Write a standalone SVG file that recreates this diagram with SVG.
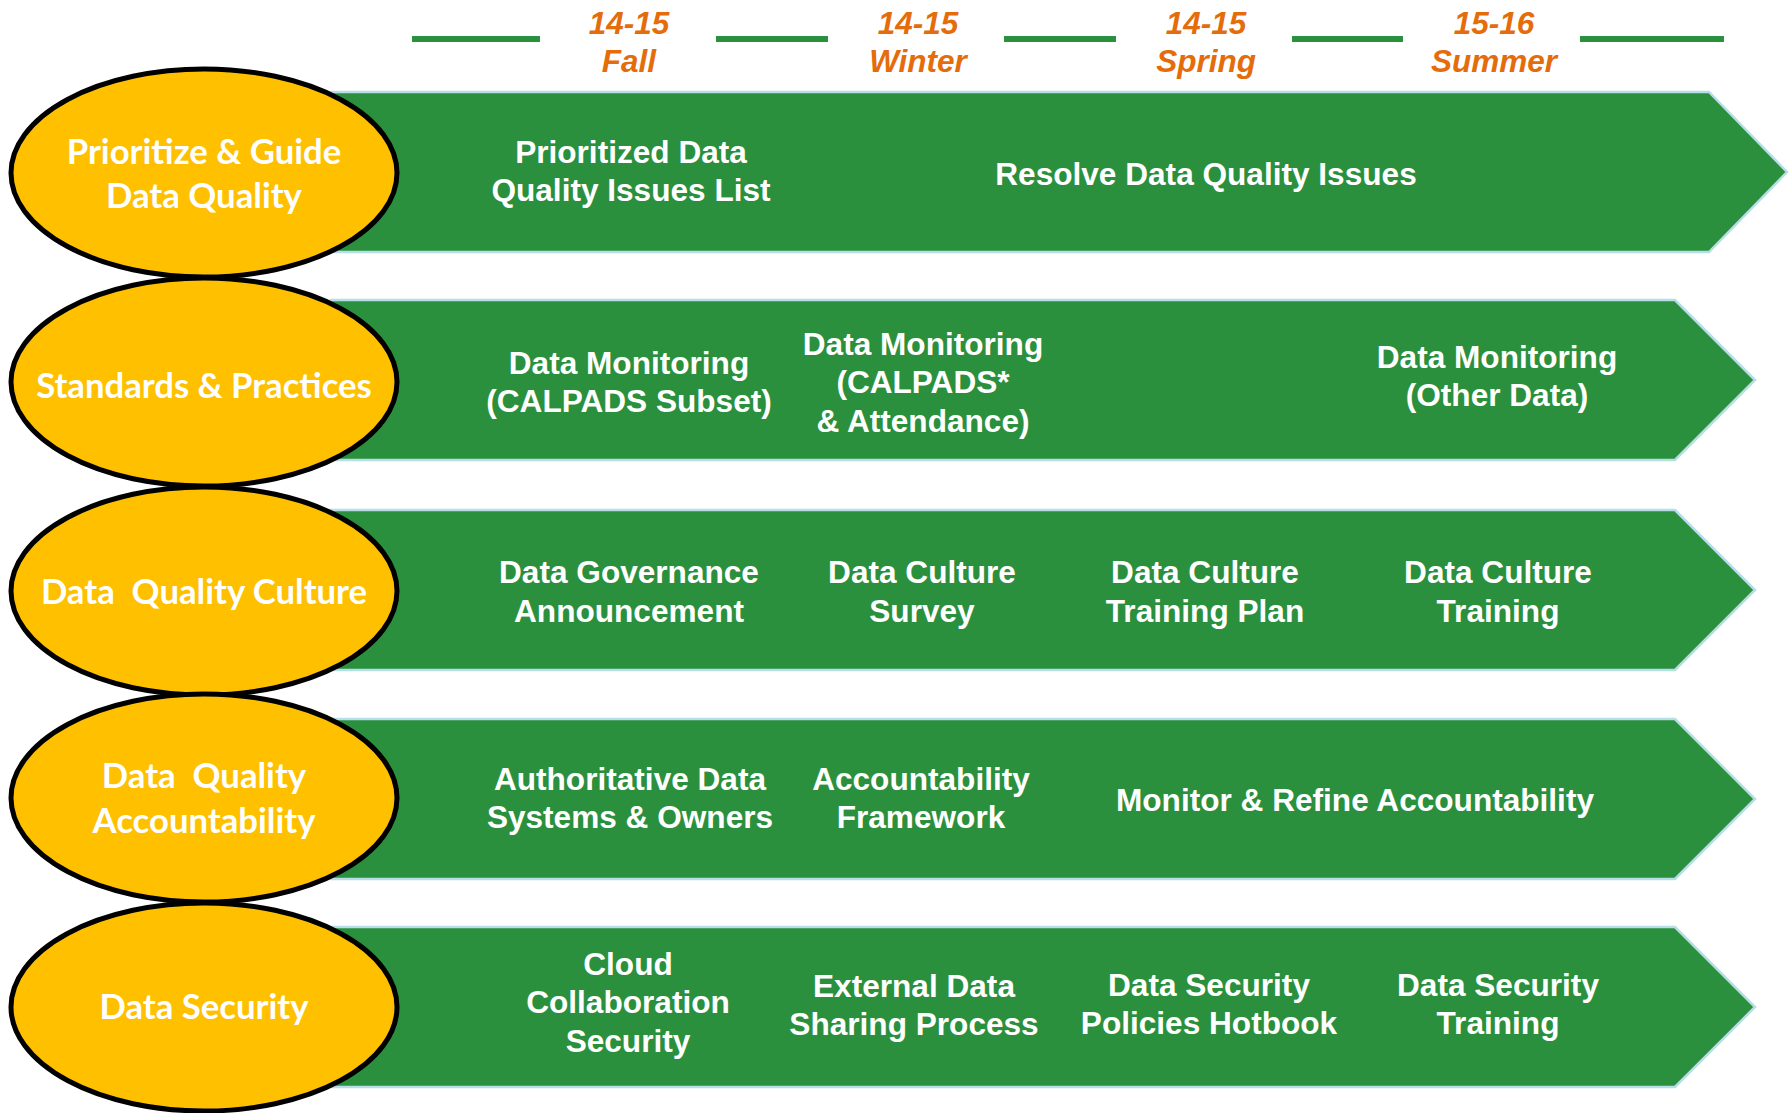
<svg xmlns="http://www.w3.org/2000/svg" width="1790" height="1113" viewBox="0 0 1790 1113">
<style>
.band{fill:#2A903D;stroke:#B7DDE6;stroke-width:2.5}
.oval{fill:#FFC000;stroke:#000;stroke-width:5}
.hl{fill:#2A903D}
.hdr{font-family:"Liberation Sans",Arial,sans-serif;font-weight:bold;font-style:italic;font-size:31.5px;fill:#E46C0A;text-anchor:middle}
.bt{font-family:"Liberation Sans",Arial,sans-serif;font-weight:bold;font-size:31.6px;fill:#fff;text-anchor:middle}
.ot{font-family:Lato,"Open Sans",sans-serif;font-weight:bold;font-size:34.7px;fill:#fff;text-anchor:middle}
</style>
<rect width="1790" height="1113" fill="#fff"/>
<g id="timeline">
<rect class="hl" x="412" y="36" width="128" height="6"/>
<rect class="hl" x="716" y="36" width="112" height="6"/>
<rect class="hl" x="1004" y="36" width="112" height="6"/>
<rect class="hl" x="1292" y="36" width="111" height="6"/>
<rect class="hl" x="1580" y="36" width="144" height="6"/>
<text class="hdr" x="629" y="34">14-15</text><text class="hdr" x="629" y="72">Fall</text>
<text class="hdr" x="918" y="34">14-15</text><text class="hdr" x="918" y="72">Winter</text>
<text class="hdr" x="1206" y="34">14-15</text><text class="hdr" x="1206" y="72">Spring</text>
<text class="hdr" x="1494" y="34">15-16</text><text class="hdr" x="1494" y="72">Summer</text>
</g>
<g id="connectors"/>
<g id="row1">
<polygon class="band" points="331,92 1709,92 1787,172 1709,252 331,252"/>
<text class="bt" x="631" y="163">Prioritized Data</text>
<text class="bt" x="631" y="201">Quality Issues List</text>
<text class="bt" x="1206" y="185">Resolve Data Quality Issues</text>
</g>
<g id="row2">
<polygon class="band" points="331,300 1675,300 1755,380 1675,460 331,460"/>
<text class="bt" x="629" y="374">Data Monitoring</text>
<text class="bt" x="629" y="412">(CALPADS Subset)</text>
<text class="bt" x="923" y="355">Data Monitoring</text>
<text class="bt" x="923" y="393">(CALPADS*</text>
<text class="bt" x="923" y="432">&amp; Attendance)</text>
<text class="bt" x="1497" y="368">Data Monitoring</text>
<text class="bt" x="1497" y="406">(Other Data)</text>
</g>
<g id="row3">
<polygon class="band" points="331,510 1675,510 1755,590 1675,670 331,670"/>
<text class="bt" x="629" y="583">Data Governance</text>
<text class="bt" x="629" y="622">Announcement</text>
<text class="bt" x="922" y="583">Data Culture</text>
<text class="bt" x="922" y="622">Survey</text>
<text class="bt" x="1205" y="583">Data Culture</text>
<text class="bt" x="1205" y="622">Training Plan</text>
<text class="bt" x="1498" y="583">Data Culture</text>
<text class="bt" x="1498" y="622">Training</text>
</g>
<g id="row4">
<polygon class="band" points="331,719 1675,719 1755,799 1675,879 331,879"/>
<text class="bt" x="630" y="790">Authoritative Data</text>
<text class="bt" x="630" y="828">Systems &amp; Owners</text>
<text class="bt" x="921" y="790">Accountability</text>
<text class="bt" x="921" y="828">Framework</text>
<text class="bt" x="1355" y="811">Monitor &amp; Refine Accountability</text>
</g>
<g id="row5">
<polygon class="band" points="331,927 1675,927 1755,1007 1675,1087 331,1087"/>
<text class="bt" x="628" y="975">Cloud</text>
<text class="bt" x="628" y="1013">Collaboration</text>
<text class="bt" x="628" y="1052">Security</text>
<text class="bt" x="914" y="997">External Data</text>
<text class="bt" x="914" y="1035">Sharing Process</text>
<text class="bt" x="1209" y="996">Data Security</text>
<text class="bt" x="1209" y="1034">Policies Hotbook</text>
<text class="bt" x="1498" y="996">Data Security</text>
<text class="bt" x="1498" y="1034">Training</text>
</g>
<g id="oval1">
<ellipse class="oval" cx="204" cy="173" rx="193" ry="104"/>
<text class="ot" x="204" y="164">Prioritize &amp; Guide</text>
<text class="ot" x="204" y="208">Data Quality</text>
</g>
<g id="oval2">
<ellipse class="oval" cx="204" cy="382" rx="193" ry="104"/>
<text class="ot" x="204" y="398">Standards &amp; Practices</text>
</g>
<g id="oval3">
<ellipse class="oval" cx="204" cy="591" rx="193" ry="104"/>
<text class="ot" x="204" y="604" xml:space="preserve">Data  Quality Culture</text>
</g>
<g id="oval4">
<ellipse class="oval" cx="204" cy="798" rx="193" ry="104"/>
<text class="ot" x="204" y="788" xml:space="preserve">Data  Quality</text>
<text class="ot" x="204" y="833">Accountability</text>
</g>
<g id="oval5">
<ellipse class="oval" cx="204" cy="1007" rx="193" ry="104"/>
<text class="ot" x="204" y="1019">Data Security</text>
</g>
</svg>
